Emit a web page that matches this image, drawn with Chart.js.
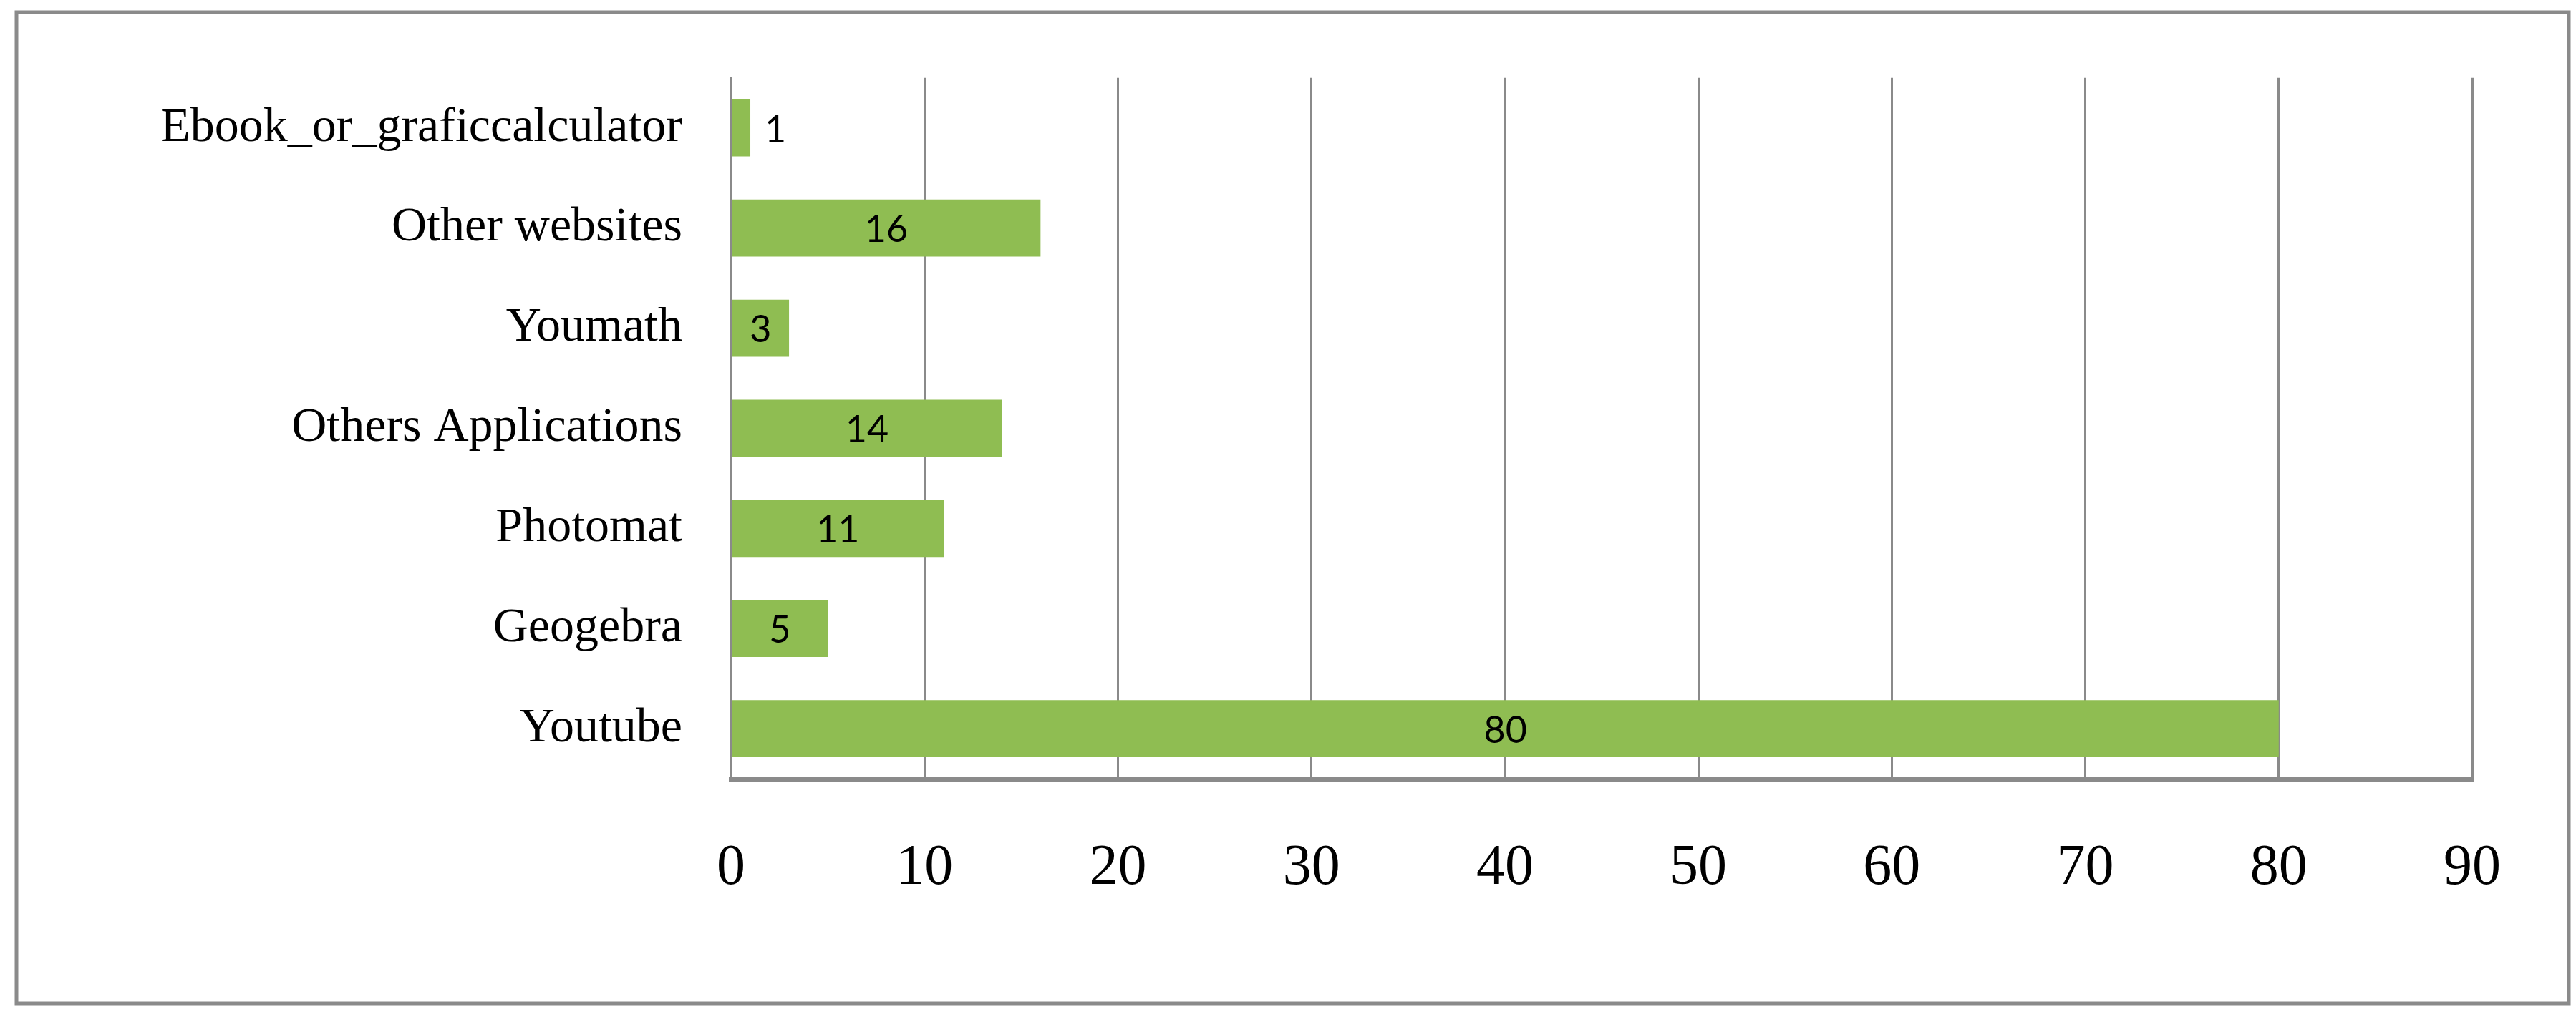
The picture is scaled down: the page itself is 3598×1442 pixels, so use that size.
<!DOCTYPE html>
<html><head><meta charset="utf-8">
<script src="https://cdn.jsdelivr.net/npm/chart.js@4"></script>
<style>html,body{margin:0;padding:0;background:#fff}canvas{display:block}</style>
</head><body>
<div style="width:3598px;height:1442px"><canvas id="c"></canvas></div>
<script>
const categories = ["Ebook_or_graficcalculator","Other websites","Youmath","Others Applications","Photomat","Geogebra","Youtube"];
const values = [1,16,3,14,11,5,80];
const xTicks = [0,10,20,30,40,50,60,70,80,90];

const frame = {id:'frame', beforeDraw(ch){const c=ch.ctx;c.save();c.fillStyle='#fff';c.fillRect(0,0,ch.width,ch.height);c.strokeStyle='#8a8a8a';c.lineWidth=5;c.strokeRect(23,17,3565,1385);c.restore();}};
const labels = {id:'labels', afterDatasetsDraw(ch){const c=ch.ctx;c.save();c.font='52px Lato';c.fillStyle='#000';c.textBaseline='middle';
  ch.getDatasetMeta(0).data.forEach((b,i)=>{const w=b.x-b.base;let x,al;
    if(w<40){x=b.x+20;al='left';}else{x=(b.x+b.base)/2;al='center';}
    c.textAlign=al;c.fillText(String(values[i]),x,b.y+3);});c.restore();}};

new Chart(document.getElementById('c'),{type:'bar',
 data:{labels:categories,datasets:[{data:values,backgroundColor:'#8fbd52',categoryPercentage:1,barPercentage:0.57}]},
 options:{indexAxis:'y',responsive:true,maintainAspectRatio:false,animation:false,devicePixelRatio:1,
  layout:{padding:{left:30,right:145,top:107,bottom:0}},
  plugins:{legend:{display:false},tooltip:{enabled:false}},
  scales:{
   x:{min:0,max:90,afterBuildTicks(s){s.ticks=xTicks.map(v=>({value:v}));},
      afterFit(s){s.height=354;},
      grid:{color:'#8a8a8a',lineWidth:3,drawTicks:false},
      border:{color:'#8a8a8a',width:7},
      ticks:{padding:78,color:'#000',font:{family:'Liberation Serif',size:80}}},
   y:{afterFit(s){s.width=991;},grid:{display:false,drawTicks:false},
      border:{color:'#8a8a8a',width:4},
      ticks:{padding:68,color:'#000',font:{family:'Liberation Serif',size:68}}}
  }},
 plugins:[frame,labels]});
</script></body></html>
